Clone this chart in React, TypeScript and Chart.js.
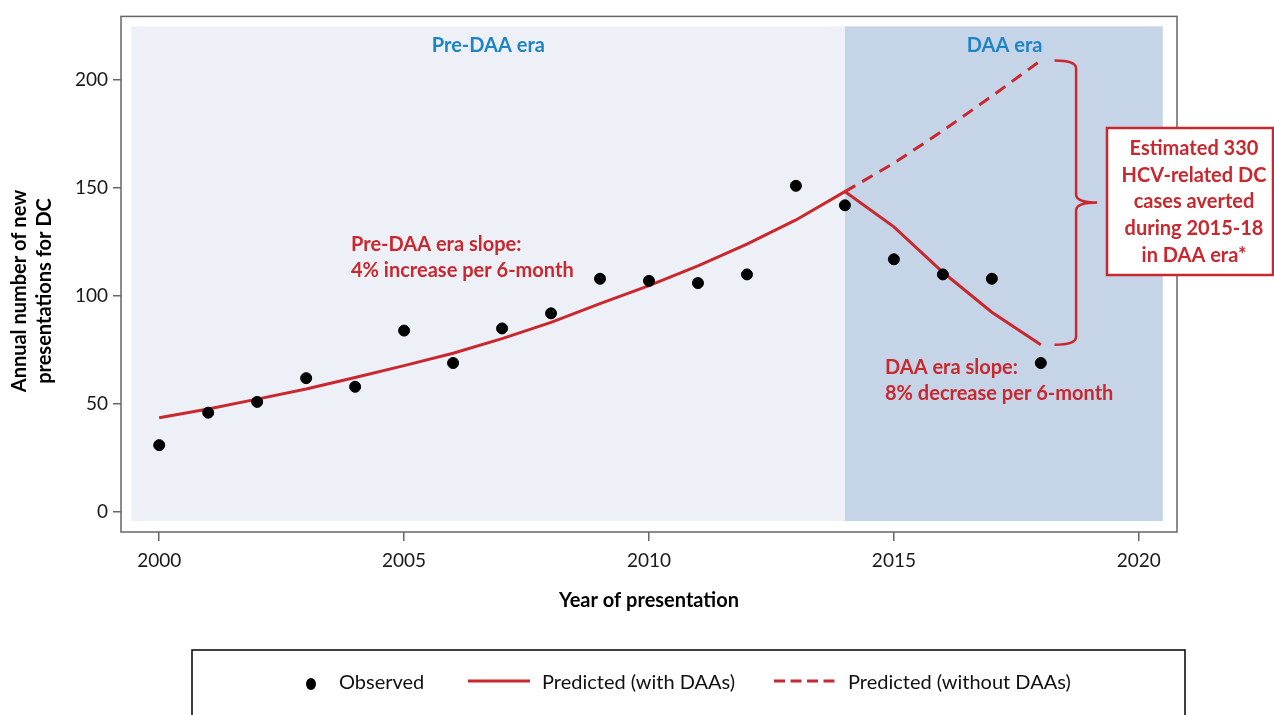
import React, { useEffect, useRef } from 'react';
import { Chart, registerables } from 'chart.js';

Chart.register(...registerables);

// ---------- data ----------
const years = [2000, 2001, 2002, 2003, 2004, 2005, 2006, 2007, 2008, 2009, 2010, 2011, 2012, 2013, 2014, 2015, 2016, 2017, 2018];
const observed = [31, 46, 51, 62, 58, 84, 69, 85, 92, 108, 107, 106, 110, 151, 142, 117, 110, 108, 69];
const predictedWithDAAs = [43.7, 47.7, 52.3, 57, 62.3, 67.8, 73.5, 80.3, 87.8, 96.5, 104.8, 114, 124, 135.2, 148.3, 132, 111, 92.5, 77.5];
const withoutYears = [2014, 2015, 2016, 2017, 2018];
const predictedWithoutDAAs = [148.3, 161.5, 176.5, 192.5, 209];
const xTicks = [2000, 2005, 2010, 2015, 2020];
const yTicks = [0, 50, 100, 150, 200];
const eraLabels = ['Pre-DAA era', 'DAA era'];
const annotationLines = ['Estimated 330', 'HCV-related DC', 'cases averted', 'during 2015-18', 'in DAA era*'];
const preSlopeLines = ['Pre-DAA era slope:', '4% increase per 6-month'];
const daaSlopeLines = ['DAA era slope:', '8% decrease per 6-month'];
const legendLabels = ['Observed', 'Predicted (with DAAs)', 'Predicted (without DAAs)'];
const xTitle = 'Year of presentation';
const yTitleLines = ['Annual number of new', 'presentations for DC'];

// ---------- style ----------
const RED = '#c8282e';
const BLUE = '#1f84c6';
const FRAME = '#666666';
const TEXT = '#1a1a1a';
const LIGHT_BG = '#edf1f7';
const DARK_BG = '#c5d5e7';
const FONT = 'Lato, "Open Sans", sans-serif';

const decorPlugin = {
  id: 'decor',
  beforeDraw(chart: any) {
    const { ctx } = chart;
    const x = chart.scales.x;
    const y = chart.scales.y;
    ctx.save();
    ctx.fillStyle = '#ffffff';
    ctx.fillRect(0, 0, chart.width, chart.height);
    const top = y.getPixelForValue(224.8);
    const bot = y.getPixelForValue(-4.15);
    const xl = x.getPixelForValue(1999.43);
    const xm = x.getPixelForValue(2014);
    const xr = x.getPixelForValue(2020.49);
    ctx.fillStyle = LIGHT_BG;
    ctx.fillRect(xl, top, xm - xl, bot - top);
    ctx.fillStyle = DARK_BG;
    ctx.fillRect(xm, top, xr - xm, bot - top);
    ctx.restore();
  },
  afterDraw(chart: any) {
    const { ctx, chartArea } = chart;
    const x = chart.scales.x;
    const y = chart.scales.y;
    ctx.save();

    // frame
    ctx.strokeStyle = FRAME;
    ctx.lineWidth = 1.5;
    ctx.strokeRect(chartArea.left, chartArea.top, chartArea.right - chartArea.left, chartArea.bottom - chartArea.top);

    // era labels
    ctx.fillStyle = BLUE;
    ctx.font = `bold 20px ${FONT}`;
    ctx.textAlign = 'center';
    ctx.textBaseline = 'alphabetic';
    ctx.fillText(eraLabels[0], x.getPixelForValue(2006.72), 52);
    ctx.fillText(eraLabels[1], x.getPixelForValue(2017.26), 52);

    // slope labels
    ctx.fillStyle = RED;
    ctx.textAlign = 'left';
    ctx.fillText(preSlopeLines[0], 351, 251);
    ctx.fillText(preSlopeLines[1], 351, 277);
    ctx.fillText(daaSlopeLines[0], 885, 374);
    ctx.fillText(daaSlopeLines[1], 885, 400);

    // brace
    const yTop = y.getPixelForValue(predictedWithoutDAAs[predictedWithoutDAAs.length - 1]);
    const yBot = y.getPixelForValue(predictedWithDAAs[predictedWithDAAs.length - 1]);
    const yMid = (yTop + yBot) / 2;
    const x0 = x.getPixelForValue(2018.28);
    const xv = x.getPixelForValue(2018.72);
    const xt = x.getPixelForValue(2019.15);
    ctx.strokeStyle = RED;
    ctx.lineWidth = 2.5;
    ctx.beginPath();
    ctx.moveTo(x0, yTop);
    ctx.quadraticCurveTo(xv, yTop, xv, yTop + 8);
    ctx.lineTo(xv, yMid - 8);
    ctx.quadraticCurveTo(xv, yMid, xt, yMid);
    ctx.moveTo(xt, yMid);
    ctx.quadraticCurveTo(xv, yMid, xv, yMid + 8);
    ctx.lineTo(xv, yBot - 8);
    ctx.quadraticCurveTo(xv, yBot, x0, yBot);
    ctx.stroke();

    // annotation box
    ctx.fillStyle = '#ffffff';
    ctx.fillRect(1107, 128, 166, 147);
    ctx.strokeStyle = RED;
    ctx.lineWidth = 2.5;
    ctx.strokeRect(1107, 128, 166, 147);
    ctx.fillStyle = RED;
    ctx.font = `bold 20px ${FONT}`;
    ctx.textAlign = 'center';
    annotationLines.forEach((t, i) => ctx.fillText(t, 1194, 155 + i * 26.7));

    // axis titles
    ctx.fillStyle = '#000000';
    ctx.font = `bold 20px ${FONT}`;
    ctx.textAlign = 'center';
    ctx.fillText(xTitle, (chartArea.left + chartArea.right) / 2, 607);
    ctx.save();
    ctx.translate(0, 291);
    ctx.rotate(-Math.PI / 2);
    ctx.fillText(yTitleLines[0], 0, 26);
    ctx.fillText(yTitleLines[1], 0, 51);
    ctx.restore();

    // legend
    ctx.strokeStyle = '#000000';
    ctx.lineWidth = 1.5;
    ctx.strokeRect(192, 650, 993, 90);
    const ly = 683;
    ctx.fillStyle = '#000000';
    ctx.beginPath();
    ctx.ellipse(311, ly + 1, 5, 6, 0, 0, Math.PI * 2);
    ctx.fill();
    ctx.font = `20px ${FONT}`;
    ctx.textAlign = 'left';
    ctx.textBaseline = 'middle';
    ctx.fillStyle = '#111111';
    ctx.fillText(legendLabels[0], 339, ly);
    ctx.strokeStyle = RED;
    ctx.lineWidth = 3;
    ctx.beginPath();
    ctx.moveTo(468, ly - 2);
    ctx.lineTo(530, ly - 2);
    ctx.stroke();
    ctx.fillText(legendLabels[1], 542, ly);
    ctx.setLineDash([11, 5.5]);
    ctx.beginPath();
    ctx.moveTo(774, ly - 2);
    ctx.lineTo(837, ly - 2);
    ctx.stroke();
    ctx.setLineDash([]);
    ctx.fillText(legendLabels[2], 848, ly);

    ctx.restore();
  },
};

export default function App() {
  const canvasRef = useRef<HTMLCanvasElement | null>(null);

  useEffect(() => {
    document.body.style.margin = '0';
    const canvas = canvasRef.current;
    if (!canvas) return;
    const chart = new Chart(canvas, {
      type: 'scatter',
      data: {
        datasets: [
          {
            label: legendLabels[0],
            data: years.map((yr, i) => ({ x: yr, y: observed[i] })),
            backgroundColor: '#000000',
            borderColor: '#000000',
            pointRadius: 5.5,
            pointHoverRadius: 5.5,
            showLine: false,
          },
          {
            label: legendLabels[1],
            data: years.map((yr, i) => ({ x: yr, y: predictedWithDAAs[i] })),
            borderColor: RED,
            borderWidth: 3,
            pointRadius: 0,
            showLine: true,
            tension: 0,
            fill: false,
          },
          {
            label: legendLabels[2],
            data: withoutYears.map((yr, i) => ({ x: yr, y: predictedWithoutDAAs[i] })),
            borderColor: RED,
            borderWidth: 3,
            borderDash: [12, 8],
            pointRadius: 0,
            showLine: true,
            tension: 0,
            fill: false,
          },
        ],
      },
      options: {
        responsive: false,
        animation: false,
        devicePixelRatio: 1,
        layout: { padding: { top: 15, right: 97, left: 0, bottom: 0 } },
        plugins: {
          legend: { display: false },
          tooltip: { enabled: false },
          title: { display: false },
        },
        scales: {
          x: {
            type: 'linear',
            min: 1999.22,
            max: 2020.78,
            afterFit: (s: any) => { s.height = 183; },
            afterBuildTicks: (s: any) => { s.ticks = xTicks.map((v) => ({ value: v })); },
            border: { display: false },
            grid: { drawOnChartArea: false, drawTicks: true, tickLength: 9, color: FRAME, lineWidth: 1.5 },
            ticks: {
              font: { family: FONT, size: 19 },
              color: TEXT,
              padding: 8,
              maxRotation: 0,
              autoSkip: false,
              callback: (v: any) => String(v),
            },
          },
          y: {
            type: 'linear',
            min: -9.2,
            max: 229.4,
            afterFit: (s: any) => { s.width = 121; },
            afterBuildTicks: (s: any) => { s.ticks = yTicks.map((v) => ({ value: v })); },
            border: { display: false },
            grid: { drawOnChartArea: false, drawTicks: true, tickLength: 8, color: FRAME, lineWidth: 1.5 },
            ticks: {
              font: { family: FONT, size: 19 },
              color: TEXT,
              padding: 5,
              autoSkip: false,
              callback: (v: any) => String(v),
            },
          },
        },
      },
      plugins: [decorPlugin],
    });
    return () => chart.destroy();
  }, []);

  return (
    <div style={{ width: 1274, height: 715, position: 'relative' }}>
      <canvas ref={canvasRef} width={1274} height={715} style={{ display: 'block', width: 1274, height: 715 }} />
    </div>
  );
}
